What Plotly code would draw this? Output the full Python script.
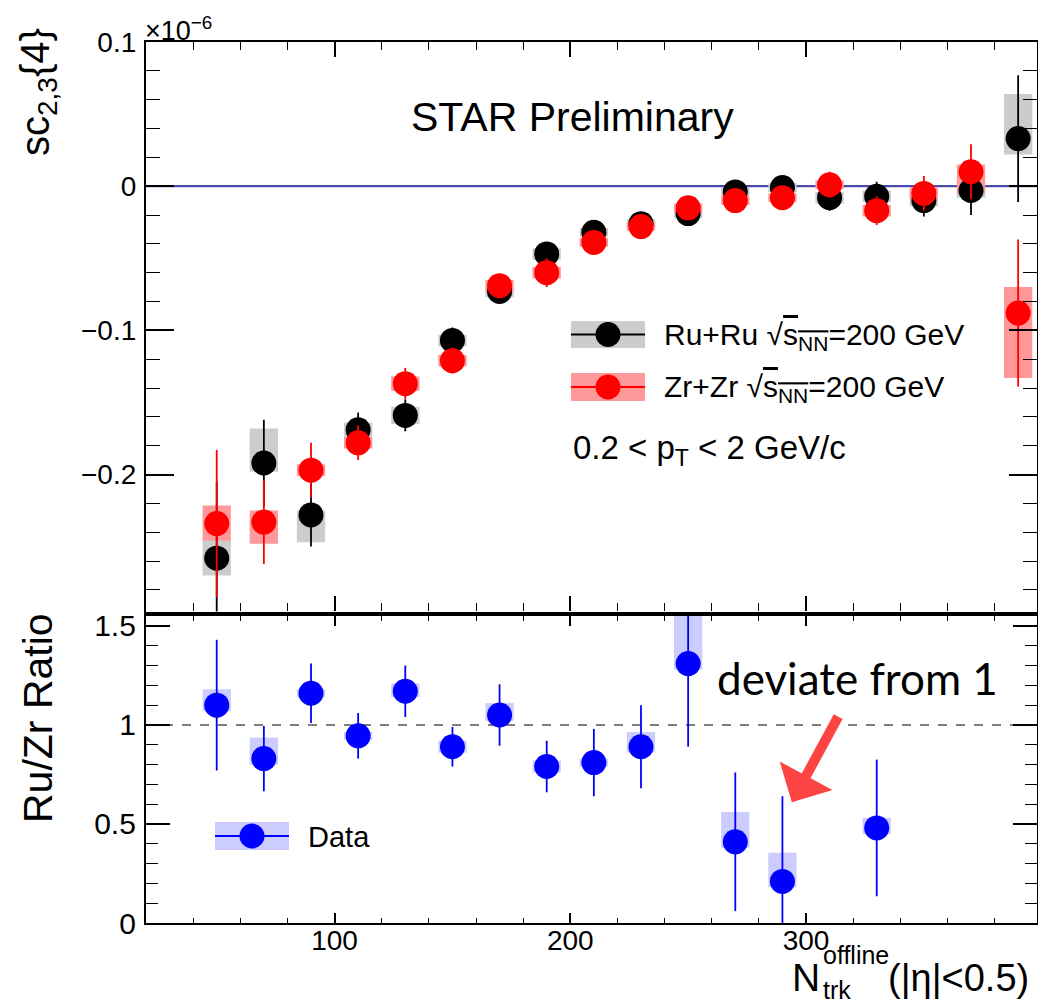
import plotly.graph_objects as go

# ---------------- data (sc_{2,3}{4} in units of 1e-6) ----------------
nch = [50, 70, 90, 110, 130, 150, 170, 190, 210, 230, 250, 270, 290, 310, 330, 350, 370, 390]

ru_val = [-0.258, -0.192, -0.228, -0.169, -0.159, -0.107, -0.073, -0.047, -0.032, -0.026,
          -0.019, -0.004, -0.001, -0.008, -0.007, -0.010, -0.003, 0.033]
ru_stat = [0.053, 0.030, 0.022, 0.012, 0.011, 0.009, 0.008, 0.008, 0.007, 0.007,
           0.007, 0.008, 0.008, 0.009, 0.010, 0.011, 0.017, 0.044]
ru_sys_up = [0.0125, 0.024, 0.003, 0.005, 0.006, 0.004, 0.004, 0.004, 0.003, 0.003,
             0.003, 0.003, 0.003, 0.004, 0.004, 0.004, 0.005, 0.031]
ru_sys_dn = [0.012, 0.006, 0.019, 0.005, 0.006, 0.004, 0.004, 0.004, 0.003, 0.003,
             0.003, 0.003, 0.003, 0.004, 0.004, 0.004, 0.005, 0.011]

zr_val = [-0.234, -0.233, -0.197, -0.178, -0.137, -0.121, -0.069, -0.060, -0.039, -0.028,
          -0.015, -0.010, -0.008, 0.001, -0.017, -0.005, 0.010, -0.088]
zr_stat = [0.051, 0.029, 0.019, 0.012, 0.011, 0.009, 0.008, 0.010, 0.008, 0.007,
           0.007, 0.008, 0.008, 0.009, 0.010, 0.012, 0.019, 0.051]
zr_sys_up = [0.0125, 0.008, 0.004, 0.004, 0.005, 0.004, 0.004, 0.004, 0.003, 0.003,
             0.003, 0.003, 0.003, 0.003, 0.004, 0.004, 0.005, 0.018]
zr_sys_dn = [0.012, 0.015, 0.004, 0.004, 0.005, 0.004, 0.004, 0.004, 0.003, 0.003,
             0.003, 0.003, 0.003, 0.003, 0.004, 0.004, 0.015, 0.045]

# ---------------- ratio Ru/Zr ----------------
ratio_x = [50, 70, 90, 110, 130, 150, 170, 190, 210, 230, 250, 270, 290, 330]
ratio_val = [1.10, 0.83, 1.16, 0.945, 1.17, 0.89, 1.05, 0.79, 0.81, 0.89, 1.31, 0.41, 0.21, 0.48]
ratio_stat = [0.33, 0.165, 0.15, 0.115, 0.13, 0.10, 0.155, 0.13, 0.17, 0.21, 0.42, 0.35, 0.43, 0.345]
ratio_sys_up = [0.08, 0.106, 0.02, 0.02, 0.04, 0.03, 0.06, 0.03, 0.02, 0.075, 0.30, 0.15, 0.145, 0.05]
ratio_sys_dn = [0.03, 0.03, 0.02, 0.02, 0.03, 0.03, 0.03, 0.03, 0.02, 0.03, 0.03, 0.03, 0.03, 0.03]

x_range = [20, 398]
y_top_range = [-0.295, 0.1]
y_bot_range = [0, 1.55]

# ---------------- layout geometry helpers (pixels -> paper) ----------------
W, H = 1038, 1004
ML, MR, MT, MB = 146, 1, 42, 81
PW, PH = W - ML - MR, H - MT - MB


def px(p):
    return (p - ML) / PW


def py(p):
    return (H - MB - p) / PH


FONT = "Liberation Sans, Arial, Helvetica, sans-serif"
BOX_W = 12

fig = go.Figure()


def add_series(x, y, stat, sup, sdn, color, boxcolor, xa, ya):
    fig.add_trace(go.Bar(
        x=x, y=[u + d for u, d in zip(sup, sdn)], base=[v - d for v, d in zip(y, sdn)],
        width=BOX_W, marker=dict(color=boxcolor, line=dict(width=0)),
        xaxis=xa, yaxis=ya, showlegend=False, hoverinfo="skip"))
    fig.add_trace(go.Scatter(
        x=x, y=y, mode="markers",
        marker=dict(color=color, size=25, line=dict(width=0)),
        error_y=dict(type="data", array=stat, color=color, thickness=1.8, width=0),
        xaxis=xa, yaxis=ya, showlegend=False, cliponaxis=True))


add_series(nch, ru_val, ru_stat, ru_sys_up, ru_sys_dn, "black", "#cccccc", "x", "y")
add_series(nch, zr_val, zr_stat, zr_sys_up, zr_sys_dn, "#ff0000", "#ff9999", "x", "y")
add_series(ratio_x, ratio_val, ratio_stat, ratio_sys_up, ratio_sys_dn, "#0000ff", "#ccccff", "x2", "y2")

axis_common = dict(showline=True, linecolor="black", linewidth=2.2, mirror="allticks",
                   ticks="inside", tickcolor="black", tickwidth=1.6, showgrid=False,
                   zeroline=False, tickfont=dict(family=FONT, size=28, color="black"))

fig.update_layout(
    width=W, height=H,
    margin=dict(l=ML, r=MR, t=MT, b=MB, autoexpand=False),
    paper_bgcolor="white", plot_bgcolor="white",
    barmode="overlay", showlegend=False,
    xaxis=dict(domain=[0, 1], anchor="y", range=x_range, dtick=100, tick0=0,
               showticklabels=False, ticklen=15,
               minor=dict(dtick=20, tick0=0, ticklen=8, ticks="inside", tickcolor="black", tickwidth=1.4),
               **axis_common),
    yaxis=dict(domain=[py(611.5), 1], anchor="x", range=y_top_range, dtick=0.1, tick0=0,
               ticklen=28, ticklabelstandoff=2,
               minor=dict(dtick=0.02, tick0=0, ticklen=14, ticks="inside", tickcolor="black", tickwidth=1.4),
               **axis_common),
    xaxis2=dict(domain=[0, 1], anchor="y2", range=x_range, dtick=100, tick0=0,
                ticklen=10, ticklabelstandoff=-9,
                minor=dict(dtick=20, tick0=0, ticklen=5, ticks="inside", tickcolor="black", tickwidth=1.4),
                **axis_common),
    yaxis2=dict(domain=[0, py(616)], anchor="x2", range=y_bot_range, dtick=0.5, tick0=0,
                ticklen=24, ticklabelstandoff=2,
                minor=dict(dtick=0.1, tick0=0, ticklen=12, ticks="inside", tickcolor="black", tickwidth=1.4),
                **{**axis_common, "tickfont": dict(family=FONT, size=30, color="black")}),
)

shapes = []
# reference lines
shapes.append(dict(type="line", xref="x domain", yref="y", x0=0, x1=1, y0=0, y1=0,
                   line=dict(color="#4b4bad", width=2.2), layer="below"))
shapes.append(dict(type="line", xref="x2 domain", yref="y2", x0=0, x1=1, y0=1, y1=1,
                   line=dict(color="#555555", width=1.6, dash="dash"), layer="below"))


def legend_entry(x0, x1, yc, h, boxcolor, linecolor, mcolor, d=25):
    shapes.append(dict(type="rect", xref="paper", yref="paper", x0=px(x0), x1=px(x1),
                       y0=py(yc + h / 2), y1=py(yc - h / 2), fillcolor=boxcolor,
                       line=dict(width=0)))
    shapes.append(dict(type="line", xref="paper", yref="paper", x0=px(x0), x1=px(x1),
                       y0=py(yc), y1=py(yc), line=dict(color=linecolor, width=1.8)))
    xc = (x0 + x1) / 2
    shapes.append(dict(type="circle", xref="paper", yref="paper",
                       x0=px(xc - d / 2), x1=px(xc + d / 2), y0=py(yc + d / 2), y1=py(yc - d / 2),
                       fillcolor=mcolor, line=dict(width=0)))


legend_entry(571, 645, 334.5, 27, "#cccccc", "black", "black")
legend_entry(571, 645, 387, 28, "#ff9999", "#ff0000", "#ff0000")
legend_entry(215, 289, 836, 28, "#ccccff", "#0000ff", "#0000ff")

annotations = []


def text(x, y, s, size, xanchor="left", yanchor="middle", family=FONT, angle=0, color="black"):
    annotations.append(dict(x=px(x), y=py(y), xref="paper", yref="paper", text=s,
                            showarrow=False, xanchor=xanchor, yanchor=yanchor,
                            textangle=angle, font=dict(family=family, size=size, color=color)))


sqrt_s = "√<span style='text-decoration:overline'>s<sub>NN</sub></span>"
text(662, 336, "Ru+Ru " + sqrt_s + "=200 GeV", 30)
text(662, 389, "Zr+Zr " + sqrt_s + "=200 GeV", 30)
text(571, 450, "0.2 < p<sub>T</sub> < 2 GeV/c", 33)
text(306, 837, "Data", 29)
text(572, 117, "STAR Preliminary", 41, xanchor="center")
text(143, 48, "×10<sup>−6</sup>", 27, yanchor="bottom")
text(38, 92, "sc<sub>2,3</sub>{4}", 40, xanchor="center", angle=-90)
text(38, 718, "Ru/Zr Ratio", 41, xanchor="center", angle=-90)
text(857, 678, "deviate from 1", 44, xanchor="center", family="Lato, Carlito, sans-serif")
# x-axis title N_trk^offline(|eta|<0.5)
text(790, 977, "N", 39)
text(821, 955, "offline", 25)
text(821, 990, "trk", 25)
text(886, 978, "(|η|<0.5)", 38)

# red arrow
annotations.append(dict(x=294, y=0.61, xref="x2", yref="y2", ax=314, ay=1.05,
                        axref="x2", ayref="y2", text="", showarrow=True,
                        arrowhead=1, arrowsize=1.0, arrowwidth=10, arrowcolor="#ff4444",
                        standoff=0))

fig.update_layout(shapes=shapes, annotations=annotations)

fig.write_html("out.html")
